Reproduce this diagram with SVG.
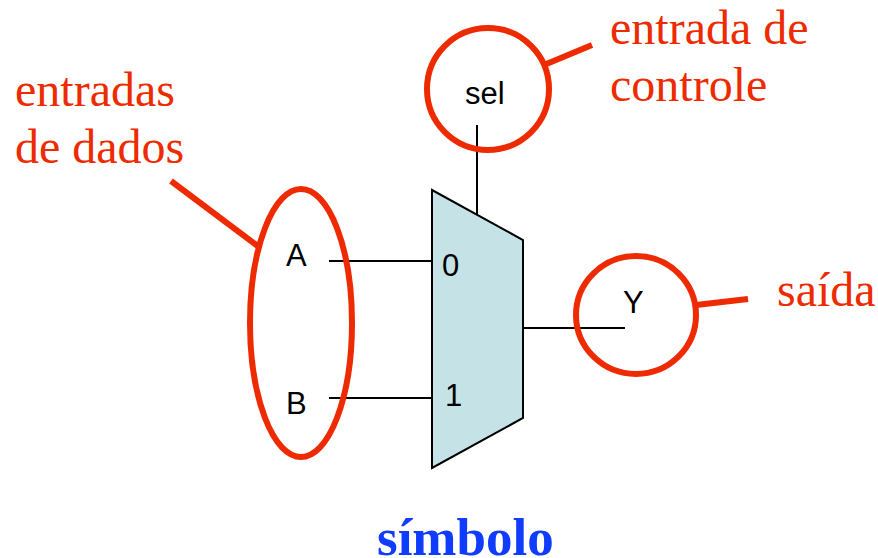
<svg xmlns="http://www.w3.org/2000/svg" width="878" height="558" viewBox="0 0 878 558">
<style>
.r{fill:none;stroke:#ee2a00;stroke-width:6}
.w{fill:none;stroke:#000;stroke-width:2}
.s{font-family:"Liberation Sans",Arial,sans-serif;font-size:31px;fill:#000}
.t{font-family:"Liberation Serif","Times New Roman",serif;font-size:48px;fill:#ee2a00}
</style>
<rect width="878" height="558" fill="#fff"/>
<g id="connectors">
<path class="w" d="M477 125V214"/>
<path class="w" d="M329 261H432"/>
<path class="w" d="M329 398H432"/>
<path class="w" d="M523 328H625"/>
<path class="r" d="M171 181L259 247"/>
<path class="r" d="M544 65L592 45"/>
<path class="r" d="M696 305L748 299"/>
</g>
<g id="mux">
<path d="M432 190L523 240V418L432 468Z" fill="#c5e3e7" stroke="#000" stroke-width="2"/>
<text class="s" x="442" y="276">0</text>
<text class="s" x="445" y="406">1</text>
</g>
<g id="sel"><circle class="r" cx="488" cy="89" r="61"/><text class="s" x="465" y="104">sel</text></g>
<g id="dados"><ellipse class="r" cx="301" cy="323" rx="51" ry="134"/><text class="s" x="286" y="266">A</text><text class="s" x="286" y="414">B</text></g>
<g id="saida"><ellipse class="r" cx="636" cy="315" rx="60" ry="59"/><text class="s" x="623" y="313">Y</text></g>
<g id="label-controle"><text class="t" x="610" y="44">entrada de</text><text class="t" x="610" y="101">controle</text></g>
<g id="label-dados"><text class="t" x="15" y="106">entradas</text><text class="t" x="15" y="163">de dados</text></g>
<g id="label-saida"><text class="t" x="777" y="306">saída</text></g>
<g id="label-simbolo"><text x="377" y="555" font-family="'Liberation Serif','Times New Roman',serif" font-size="53" font-weight="bold" fill="#0f3cff">símbolo</text></g>
</svg>
